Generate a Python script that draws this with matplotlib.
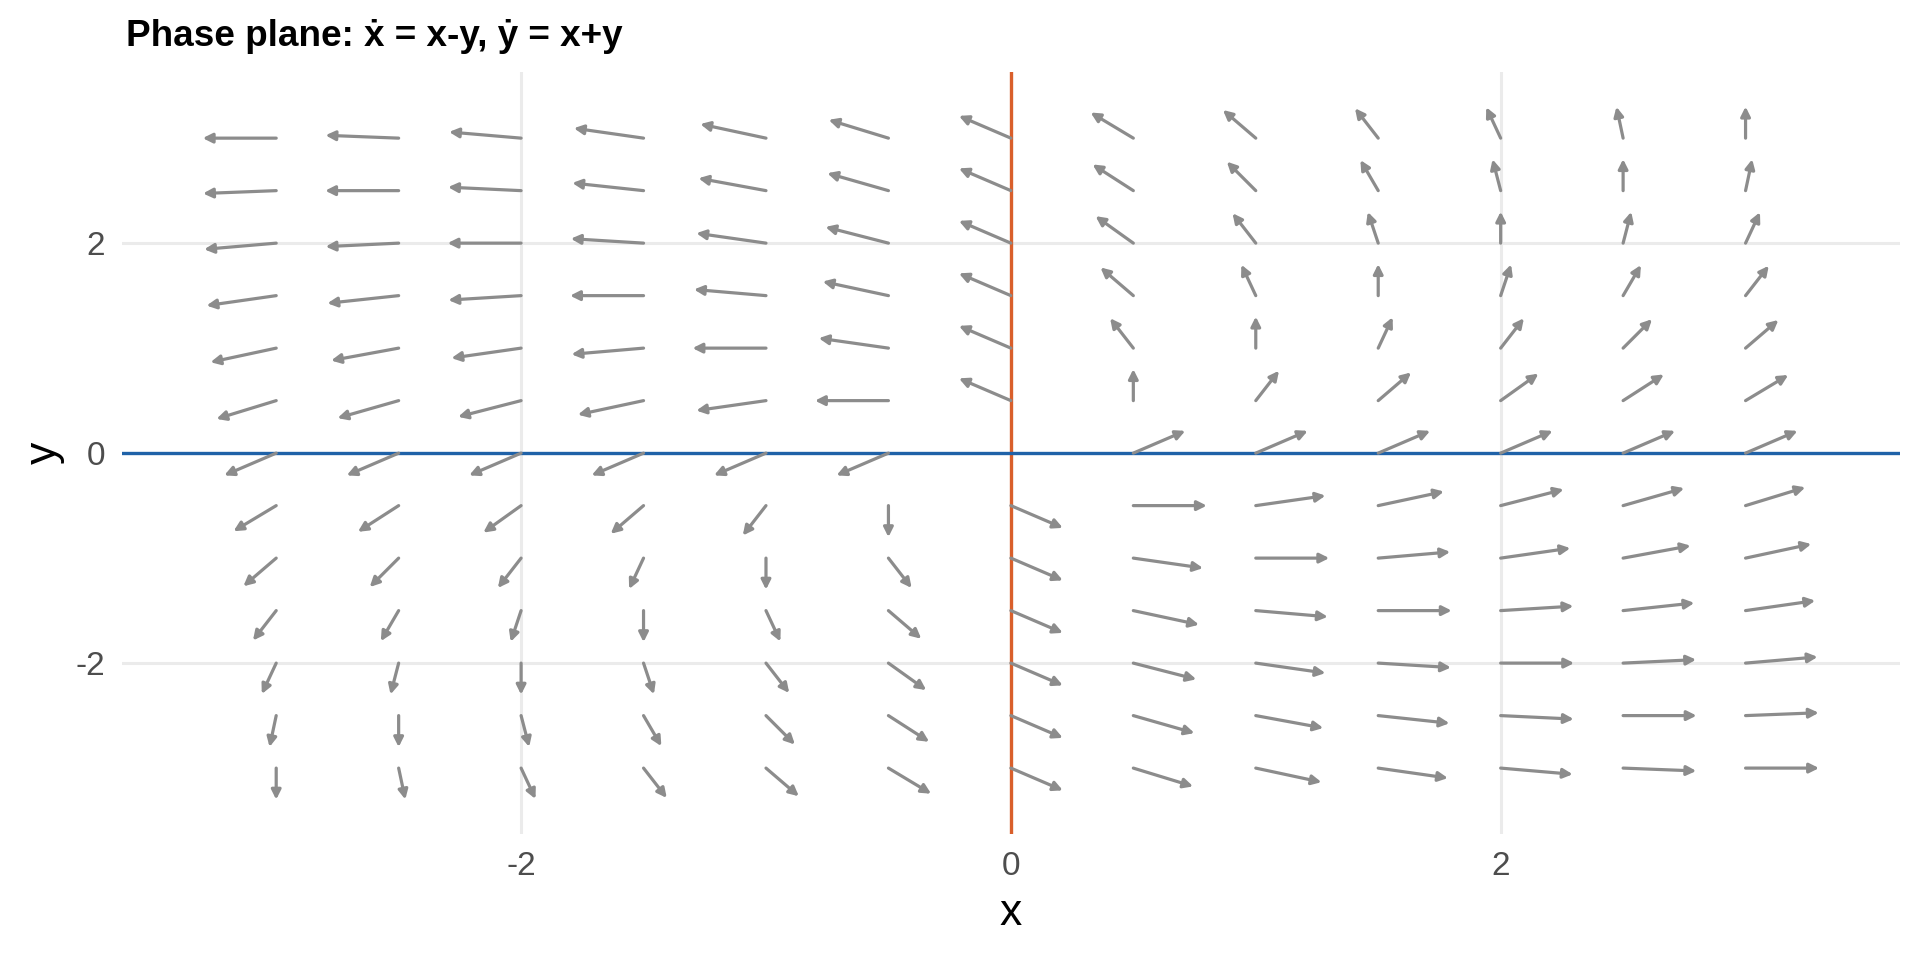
import numpy as np
import matplotlib.pyplot as plt

# grid of starting points
xs = [-3.0, -2.5, -2.0, -1.5, -1.0, -0.5, 0.0, 0.5, 1.0, 1.5, 2.0, 2.5, 3.0]
ys = [-3.0, -2.5, -2.0, -1.5, -1.0, -0.5, 0.0, 0.5, 1.0, 1.5, 2.0, 2.5, 3.0]
arrow_len = 0.3
x_ticks = [-2, 0, 2]
y_ticks = [-2, 0, 2]

plt.rcParams['font.family'] = ['Liberation Sans', 'DejaVu Sans']

fig = plt.figure(figsize=(9.6, 4.8), dpi=200)
ax = fig.add_axes([0.0635, 0.131, 0.926, 0.794])

X, Y = np.meshgrid(xs, ys)
U = X - Y   # x' = x - y
V = X + Y   # y' = x + y
N = np.hypot(U, V)

for x0, y0, u, v, n in zip(X.ravel(), Y.ravel(), U.ravel(), V.ravel(), N.ravel()):
    if n == 0:
        continue
    x1 = x0 + arrow_len * u / n
    y1 = y0 + arrow_len * v / n
    ax.annotate('', xy=(x1, y1), xytext=(x0, y0),
                arrowprops=dict(arrowstyle='-|>', color='#8C8C8C', lw=1.15,
                                mutation_scale=7, shrinkA=0, shrinkB=0),
                zorder=4)

ax.axvline(0, color='#D95F2B', lw=1.2, zorder=3)
ax.axhline(0, color='#1F62A8', lw=1.2, zorder=3)

ax.set_xlim(-3.63, 3.63)
ax.set_ylim(-3.63, 3.63)
ax.set_xticks(x_ticks)
ax.set_yticks(y_ticks)
ax.set_xticklabels([str(t) for t in x_ticks])
ax.set_yticklabels([str(t) for t in y_ticks])
ax.grid(True, color='#EBEBEB', lw=1.1, zorder=0)
ax.set_axisbelow(True)
for s in ax.spines.values():
    s.set_visible(False)
ax.tick_params(length=0, labelsize=12, labelcolor='#4D4D4D', pad=6)
ax.set_xlabel('x', fontsize=16, labelpad=4)
ax.set_ylabel('y', fontsize=16, labelpad=4, rotation=90)

fig.text(0.0655, 0.962, 'Phase plane: ẋ = x-y, ẏ = x+y', fontsize=13.3,
         fontweight='bold', ha='left', va='center')

fig.savefig('out.png', dpi=200, facecolor='white')
